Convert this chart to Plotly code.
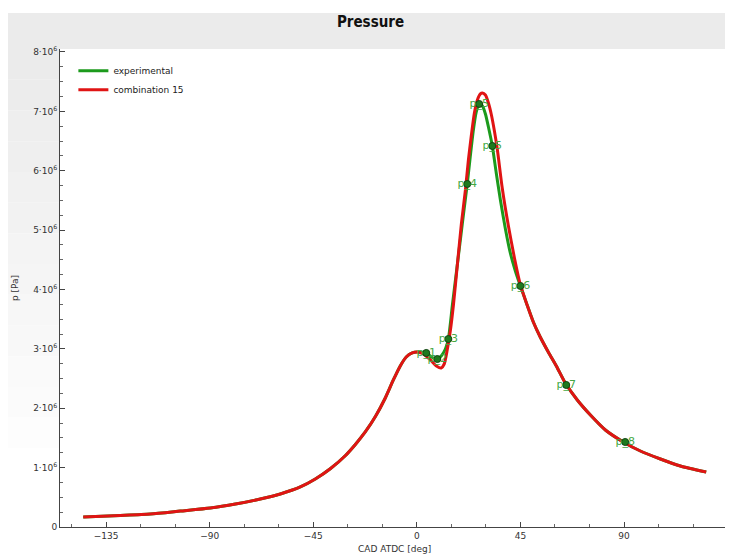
import plotly.graph_objects as go

# ---- data ----
cad_model = [-144.9, -128.8, -115.8, -102.7, -89.7, -78.8, -68.0, -59.3, -50.6, -44.1, -37.6, -31.1,
             -26.7, -22.4, -18.0, -13.7, -10.2, -7.2, -4.6, -2.0, 0.2, 2.8, 5.9, 8.5, 10.6, 11.9,
             13.2, 14.6, 15.9, 17.6, 19.3, 21.1, 22.4, 23.7, 25.0, 26.3, 27.6, 28.5, 29.8, 31.1,
             32.4, 33.7, 35.0, 37.1, 39.7, 42.4, 45.0, 47.6, 50.6, 53.6, 57.1, 60.6, 64.5, 69.7,
             75.4, 81.9, 89.7, 97.1, 105.8, 114.5, 125.7]
p_model = [0.168e6, 0.194e6, 0.219e6, 0.269e6, 0.320e6, 0.387e6, 0.472e6, 0.556e6, 0.674e6, 0.808e6,
           0.980e6, 1.200e6, 1.390e6, 1.600e6, 1.860e6, 2.173e6, 2.476e6, 2.712e6, 2.863e6, 2.931e6,
           2.947e6, 2.914e6, 2.813e6, 2.712e6, 2.678e6, 2.745e6, 2.981e6, 3.318e6, 3.739e6, 4.413e6,
           5.086e6, 5.676e6, 6.181e6, 6.602e6, 6.973e6, 7.192e6, 7.293e6, 7.309e6, 7.276e6, 7.141e6,
           6.939e6, 6.669e6, 6.349e6, 5.709e6, 5.086e6, 4.531e6, 4.076e6, 3.773e6, 3.453e6, 3.200e6,
           2.947e6, 2.712e6, 2.425e6, 2.139e6, 1.886e6, 1.634e6, 1.432e6, 1.280e6, 1.145e6, 1.027e6,
           0.926e6]

cad_exp = [-144.9, -128.8, -115.8, -102.7, -89.7, -78.8, -68.0, -59.3, -50.6, -44.1, -37.6, -31.1,
           -26.7, -22.4, -18.0, -13.7, -10.2, -7.2, -4.6, -2.0, 0.2, 4.1, 6.3, 8.9, 10.6, 12.4,
           13.7, 15.4, 17.2, 18.9, 20.6, 21.9, 23.2, 24.5, 25.8, 27.1, 28.5, 29.8, 31.1, 32.8,
           34.5, 36.3, 38.4, 40.6, 42.8, 45.0, 47.6, 50.6, 53.6, 57.1, 60.6, 64.5, 69.7, 75.4,
           81.9, 89.7, 97.1, 105.8, 114.5, 125.7]
p_exp = [0.168e6, 0.194e6, 0.219e6, 0.269e6, 0.320e6, 0.387e6, 0.472e6, 0.556e6, 0.674e6, 0.808e6,
         0.980e6, 1.200e6, 1.390e6, 1.600e6, 1.860e6, 2.173e6, 2.476e6, 2.712e6, 2.863e6, 2.931e6,
         2.947e6, 2.931e6, 2.863e6, 2.829e6, 2.880e6, 2.998e6, 3.166e6, 3.722e6, 4.295e6, 4.834e6,
         5.373e6, 5.777e6, 6.232e6, 6.669e6, 6.989e6, 7.124e6, 7.091e6, 6.956e6, 6.737e6, 6.417e6,
         5.962e6, 5.507e6, 5.036e6, 4.615e6, 4.312e6, 4.059e6, 3.773e6, 3.453e6, 3.200e6, 2.947e6,
         2.712e6, 2.425e6, 2.139e6, 1.886e6, 1.634e6, 1.432e6, 1.280e6, 1.145e6, 1.027e6, 0.926e6]

cursor_x = [4.1, 8.9, 13.7, 21.9, 27.1, 32.8, 45.0, 64.9, 90.5]
cursor_y = [2.931e6, 2.829e6, 3.166e6, 5.777e6, 7.124e6, 6.417e6, 4.059e6, 2.392e6, 1.432e6]
cursor_labels = ["p_1", "p_2", "p_3", "p_4", "p_5", "p_5", "p_6", "p_7", "p_8"]

x_ticks = [-135, -90, -45, 0, 45, 90, 135]
y_ticks = [0, 1e6, 2e6, 3e6, 4e6, 5e6, 6e6, 7e6, 8e6]
y_ticktext = ["0"] + [f"{i}·10<sup>6</sup>" for i in range(1, 9)]

FONT = "DejaVu Sans, Liberation Sans, sans-serif"

fig = go.Figure()
fig.add_trace(go.Scatter(x=cad_exp, y=p_exp, mode="lines", name="experimental",
                         line=dict(color="#1c9a1c", width=3, shape="spline", smoothing=0.6)))
fig.add_trace(go.Scatter(x=cad_model, y=p_model, mode="lines", name="combination 15",
                         line=dict(color="#e01414", width=3, shape="spline", smoothing=0.6)))
fig.add_trace(go.Scatter(x=cursor_x, y=cursor_y, mode="markers+text", text=cursor_labels,
                         textposition="middle center", showlegend=False,
                         textfont=dict(color="#45a845", size=11, family=FONT),
                         marker=dict(color="#1e7a1e", size=7, line=dict(color="#114411", width=1))))

# plot area: 669 x 478 px, figure 725 x 550 (page adds 8 px body margin)
PW, PH = 669, 478
shapes = [dict(type="rect", xref="paper", yref="paper", x0=-52 / PW, x1=1 + 4 / PW, y0=1.0,
               y1=(PH + 36) / PH, fillcolor="#ebebeb", line=dict(width=0), layer="below")]
n = 14
for i in range(n):
    top = 1.0 - i * (0.9 / n)
    bot = top - 0.9 / n
    g = int(0xeb + (0xff - 0xeb) * i / (n - 1))
    shapes.append(dict(type="rect", xref="paper", yref="paper", x0=-52 / PW, x1=0, y0=bot, y1=top,
                       fillcolor=f"rgb({g},{g},{g})", line=dict(width=0), layer="below"))

fig.update_layout(
    width=725, height=550,
    margin=dict(l=52, r=4, t=41, b=31),
    paper_bgcolor="white", plot_bgcolor="white",
    font=dict(family=FONT, size=9, color="#333333"),
    title=dict(text="<b>Pressure</b>", x=0.5, xanchor="center", y=1 - 14 / 550, yanchor="middle",
               font=dict(family="Liberation Sans Narrow, DejaVu Sans Condensed, Liberation Sans",
                         size=15, color="#111111")),
    showlegend=True,
    legend=dict(x=0.02, y=0.985, xanchor="left", yanchor="top", bgcolor="rgba(0,0,0,0)",
                font=dict(size=9, color="#222222"), itemwidth=30, tracegroupgap=2),
    shapes=shapes,
    annotations=[
        dict(text="CAD ATDC [deg]", xref="paper", yref="paper", x=0.5, y=-22 / PH,
             xanchor="center", yanchor="middle", showarrow=False, font=dict(size=9, color="#333333")),
        dict(text="p [Pa]", xref="paper", yref="paper", x=-45 / PW, y=0.5, textangle=-90,
             xanchor="center", yanchor="middle", showarrow=False, font=dict(size=9, color="#333333")),
    ],
)
fig.update_xaxes(range=[-155, 135.6], tickvals=x_ticks, showgrid=False, zeroline=False,
                 showline=True, linecolor="#444444", linewidth=1, ticks="inside", ticklen=5,
                 tickcolor="#444444", tickfont=dict(size=9, color="#333333"),
                 minor=dict(dtick=15, tick0=0, ticks="inside", ticklen=3, tickcolor="#666666"))
fig.update_yaxes(range=[0, 8.05e6], tickvals=y_ticks, ticktext=y_ticktext, showgrid=False,
                 zeroline=False, showline=True, linecolor="#444444", linewidth=1, ticks="inside",
                 ticklen=5, tickcolor="#444444", tickfont=dict(size=9, color="#333333"),
                 minor=dict(dtick=0.25e6, tick0=0, ticks="inside", ticklen=3, tickcolor="#666666"))

fig.write_html("out.html")
